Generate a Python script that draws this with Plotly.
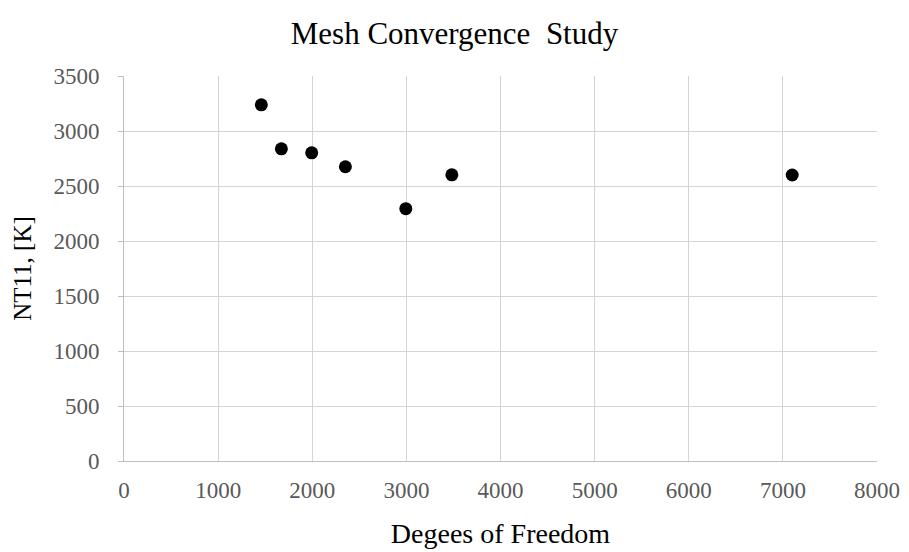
import plotly.graph_objects as go

# Mesh convergence results: degrees of freedom vs. nodal temperature NT11
dof = [1459, 1672, 1994, 2352, 2994, 3483, 7099]
nt11 = [3238, 2838, 2802, 2675, 2294, 2602, 2600]

x_ticks = [0, 1000, 2000, 3000, 4000, 5000, 6000, 7000, 8000]
y_ticks = [0, 500, 1000, 1500, 2000, 2500, 3000, 3500]

serif = "Liberation Serif, Times New Roman, serif"

fig = go.Figure(
    go.Scatter(
        x=dof,
        y=nt11,
        mode="markers",
        marker=dict(size=13, color="black", line=dict(width=0)),
        showlegend=False,
    )
)

fig.update_layout(
    width=909,
    height=552,
    margin=dict(l=124, r=32, t=76, b=91),
    paper_bgcolor="white",
    plot_bgcolor="white",
    font=dict(family=serif, color="#595959"),
    title=dict(
        text="Mesh Convergence  Study",
        font=dict(family=serif, size=31, color="black"),
        x=0.5,
        xanchor="center",
        xref="container",
        y=1 - 33 / 552,
        yref="container",
        yanchor="middle",
    ),
    xaxis=dict(
        range=[0, 8000],
        tickvals=x_ticks,
        ticktext=[str(v) for v in x_ticks],
        tickfont=dict(size=23, color="#595959"),
        showgrid=True,
        gridcolor="#d4d4d4",
        gridwidth=1,
        zeroline=False,
        showline=True,
        linecolor="#bfbfbf",
        linewidth=1,
        ticks="",
        ticklabelstandoff=8,
        automargin=False,
        title=dict(
            text="Degees of Freedom",
            font=dict(family=serif, size=28, color="black"),
            standoff=21,
        ),
    ),
    yaxis=dict(
        range=[0, 3500],
        tickvals=y_ticks,
        ticktext=[str(v) for v in y_ticks],
        tickfont=dict(size=23, color="#595959"),
        showgrid=True,
        gridcolor="#d4d4d4",
        gridwidth=1,
        zeroline=False,
        showline=True,
        linecolor="#bfbfbf",
        linewidth=1,
        ticks="outside",
        ticklen=5,
        tickcolor="#bfbfbf",
        ticklabelstandoff=14,
        automargin=False,
        title=dict(
            text="NT11, [K]",
            font=dict(family=serif, size=25, color="black"),
            standoff=14,
        ),
    ),
)

fig.write_html("out.html")
